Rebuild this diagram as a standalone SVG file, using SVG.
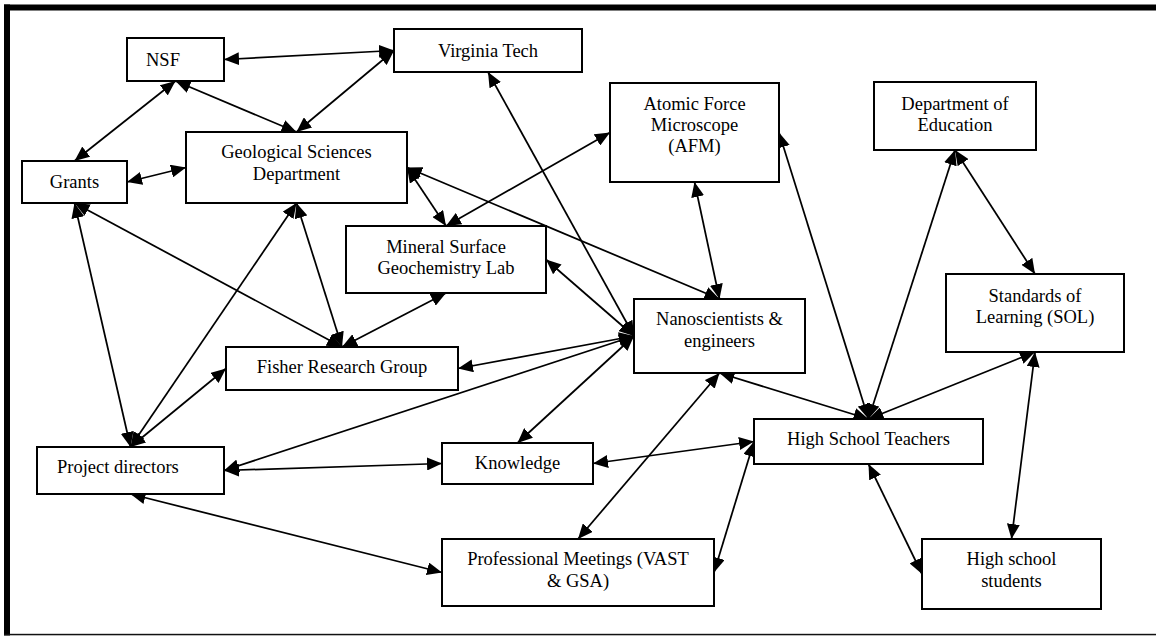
<svg xmlns="http://www.w3.org/2000/svg" width="1156" height="636" viewBox="0 0 1156 636">
<style>
.box{fill:#fff;stroke:#000;stroke-width:2}
.t{font-family:"Liberation Serif","Times New Roman",serif;font-size:18.5px;fill:#000}
.c{text-anchor:middle}
.ln{stroke:#000;stroke-width:1.75;fill:none;marker-start:url(#ah);marker-end:url(#ah)}
</style>
<defs>
<marker id="ah" markerUnits="userSpaceOnUse" viewBox="0 0 15 13" markerWidth="15" markerHeight="13" refX="15" refY="6.5" orient="auto-start-reverse">
<path d="M0,0 L15,6.5 L0,13 z" fill="#000"/>
</marker>
</defs>
<rect width="1156" height="636" fill="#fff"/>
<g id="frame">
<rect x="4" y="4.5" width="1152" height="6" fill="#000"/>
<rect x="4" y="4.5" width="6" height="631" fill="#000"/>
<rect x="4" y="633.8" width="1152" height="1.5" fill="#111"/>
</g>
<g id="connectors">
<line class="ln" x1="224" y1="59.5" x2="394" y2="50.5"/>
<line class="ln" x1="175.5" y1="81" x2="296.5" y2="132"/>
<line class="ln" x1="175.5" y1="81" x2="74.5" y2="161"/>
<line class="ln" x1="394" y1="50.5" x2="296.5" y2="132"/>
<line class="ln" x1="127" y1="182" x2="186" y2="167.5"/>
<line class="ln" x1="74.5" y1="203" x2="342" y2="347"/>
<line class="ln" x1="74.5" y1="203" x2="130.5" y2="447"/>
<line class="ln" x1="296.5" y1="203" x2="130.5" y2="447"/>
<line class="ln" x1="296.5" y1="203" x2="342" y2="347"/>
<line class="ln" x1="130.5" y1="447" x2="226" y2="368.5"/>
<line class="ln" x1="407" y1="167.5" x2="446" y2="226"/>
<line class="ln" x1="407" y1="167.5" x2="719.5" y2="299"/>
<line class="ln" x1="610" y1="132.5" x2="446" y2="226"/>
<line class="ln" x1="446" y1="293" x2="342" y2="347"/>
<line class="ln" x1="546" y1="259.5" x2="634" y2="336"/>
<line class="ln" x1="488" y1="72" x2="634" y2="336"/>
<line class="ln" x1="694.5" y1="182" x2="719.5" y2="299"/>
<line class="ln" x1="634" y1="336" x2="458" y2="368.5"/>
<line class="ln" x1="634" y1="336" x2="224" y2="470.5"/>
<line class="ln" x1="634" y1="336" x2="517.5" y2="443"/>
<line class="ln" x1="224" y1="470.5" x2="442" y2="463.5"/>
<line class="ln" x1="130.5" y1="494" x2="442" y2="572.5"/>
<line class="ln" x1="719.5" y1="373" x2="578" y2="539"/>
<line class="ln" x1="593" y1="463.5" x2="754" y2="441.5"/>
<line class="ln" x1="754" y1="441.5" x2="714" y2="572.5"/>
<line class="ln" x1="868.5" y1="419" x2="719.5" y2="373"/>
<line class="ln" x1="868.5" y1="419" x2="779" y2="132.5"/>
<line class="ln" x1="868.5" y1="419" x2="955" y2="150"/>
<line class="ln" x1="868.5" y1="419" x2="1035" y2="352"/>
<line class="ln" x1="955" y1="150" x2="1035" y2="274"/>
<line class="ln" x1="868.5" y1="464" x2="922" y2="574"/>
<line class="ln" x1="1035" y1="352" x2="1011.5" y2="539"/>
</g>
<g id="nsf"><rect class="box" x="127" y="38" width="97" height="43"/><text class="t" x="146" y="66">NSF</text></g>
<g id="virginia-tech"><rect class="box" x="394" y="29" width="188" height="43"/><text class="t c" x="488" y="57">Virginia Tech</text></g>
<g id="geological"><rect class="box" x="186" y="132" width="221" height="71"/><text class="t c" x="296.5" y="158">Geological Sciences</text><text class="t c" x="296.5" y="180">Department</text></g>
<g id="grants"><rect class="box" x="22" y="161" width="105" height="42"/><text class="t c" x="74.5" y="188">Grants</text></g>
<g id="afm"><rect class="box" x="610" y="83" width="169" height="99"/><text class="t c" x="694.5" y="110">Atomic Force</text><text class="t c" x="694.5" y="131">Microscope</text><text class="t c" x="694.5" y="152">(AFM)</text></g>
<g id="doe"><rect class="box" x="874" y="82" width="162" height="68"/><text class="t c" x="955" y="110">Department of</text><text class="t c" x="955" y="131">Education</text></g>
<g id="mineral"><rect class="box" x="346" y="226" width="200" height="67"/><text class="t c" x="446" y="253">Mineral Surface</text><text class="t c" x="446" y="274">Geochemistry Lab</text></g>
<g id="fisher"><rect class="box" x="226" y="347" width="232" height="43"/><text class="t c" x="342" y="373">Fisher Research Group</text></g>
<g id="nano"><rect class="box" x="634" y="299" width="171" height="74"/><text class="t c" x="719.5" y="325">Nanoscientists &amp;</text><text class="t c" x="719.5" y="347">engineers</text></g>
<g id="sol"><rect class="box" x="946" y="274" width="178" height="78"/><text class="t c" x="1035" y="302">Standards of</text><text class="t c" x="1035" y="323">Learning (SOL)</text></g>
<g id="project-directors"><rect class="box" x="37" y="447" width="187" height="47"/><text class="t" x="57" y="473">Project directors</text></g>
<g id="knowledge"><rect class="box" x="442" y="443" width="151" height="41"/><text class="t c" x="517.5" y="469">Knowledge</text></g>
<g id="hs-teachers"><rect class="box" x="754" y="419" width="229" height="45"/><text class="t c" x="868.5" y="445">High School Teachers</text></g>
<g id="prof-meetings"><rect class="box" x="442" y="539" width="272" height="67"/><text class="t c" x="578" y="565">Professional Meetings (VAST</text><text class="t c" x="578" y="587">&amp; GSA)</text></g>
<g id="hs-students"><rect class="box" x="922" y="539" width="179" height="70"/><text class="t c" x="1011.5" y="565">High school</text><text class="t c" x="1011.5" y="587">students</text></g>
</svg>
